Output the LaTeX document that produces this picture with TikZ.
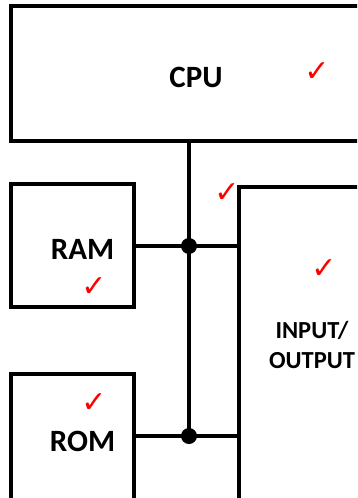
\documentclass[tikz,border=0pt]{standalone}
\usepackage{fontspec}
\setmainfont{Carlito}
\newfontfamily\symfont{DejaVu Sans}
\begin{document}
\begin{tikzpicture}[x=1pt,y=-1pt,
  blk/.style={draw=black,line width=3.6pt,fill=white,inner sep=0pt},
  lbl/.style={font=\bfseries\fontsize{31}{33}\selectfont,inner sep=0pt,anchor=center},
  lblsmall/.style={font=\bfseries\fontsize{24.5}{30}\selectfont,inner sep=0pt,align=center},
  tick/.style={text=red,font=\symfont\bfseries\fontsize{30}{30}\selectfont,inner sep=0pt},
  wire/.style={line width=3.6pt},
  jdot/.style={circle,fill=black,inner sep=0pt,minimum size=16pt}]
\useasboundingbox (0,0) rectangle (357,498);
\clip (0,0) rectangle (357,498);
\fill[white] (0,0) rectangle (357,498);
% boxes
\node[blk,minimum width=370pt,minimum height=135pt] (cpu) at (196,73.5) {};
\node[blk,minimum width=123pt,minimum height=123pt] (ram) at (72.5,245.5) {};
\node[blk,minimum width=123pt,minimum height=160pt] (rom) at (72.5,454) {};
\node[blk,minimum width=140pt,minimum height=360pt] (io) at (309,367) {};
% labels
\node[lbl] (cputxt) at (196,77) {CPU};
\node[lbl] (ramtxt) at (82.5,249) {RAM};
\node[lbl] (romtxt) at (82.5,441) {ROM};
\node[lblsmall] (iotxt) at (312,345) {INPUT/\\OUTPUT};
% bus
\coordinate (j1) at (189,246);
\coordinate (j2) at (189,436);
\draw[wire] (cpu.south -| j1) -- (j2);
\draw[wire] (ram.east |- j1) -- (io.west |- j1);
\draw[wire] (ram.east |- j2) -- (io.west |- j2);
\node[jdot] (d1) at (j1) {};
\node[jdot] (d2) at (j2) {};
% ticks
\node[tick] (t1) at (317,72) {✓};
\node[tick] (t2) at (227,193) {✓};
\node[tick] (t3) at (324,269) {✓};
\node[tick] (t4) at (94,287) {✓};
\node[tick] (t5) at (94,403) {✓};
\end{tikzpicture}
\end{document}
